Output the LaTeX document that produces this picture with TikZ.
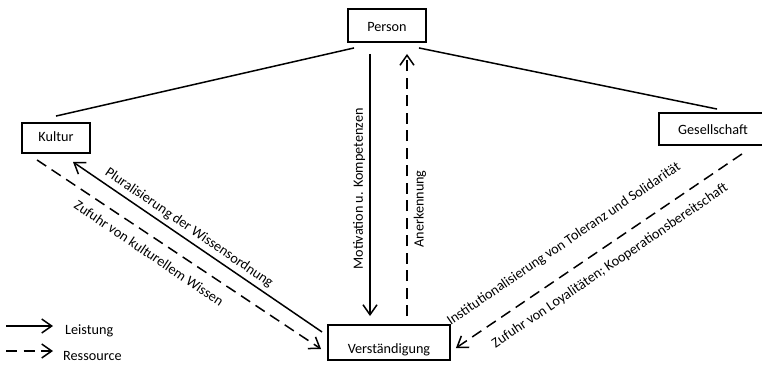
\documentclass[tikz,border=0pt]{standalone}
\usepackage{fontspec}
\setmainfont{Carlito}
\usetikzlibrary{arrows.meta,calc}
\begin{document}
\begin{tikzpicture}[x=1pt,y=-1pt,
  every node/.style={font=\fontsize{14.2}{16}\selectfont},
  box/.style={draw,line width=1.9pt,inner sep=0pt,align=center},
  lbl/.style={inner sep=0pt},
  conn/.style={line width=1.5pt},
  res/.style={conn,dash pattern=on 11pt off 6.5pt},
  tip/.style={-{Straight Barb[length=10pt,width=14pt,line width=1.5pt]}}
]
\useasboundingbox (0,0) rectangle (762,371);
% boxes
\node[box,minimum width=78pt,text height=23pt,text depth=10pt] (person) at (387,25.5) {Person};
\node[box,minimum width=68pt,text height=19pt,text depth=11pt] (kultur) at (56,138) {Kultur};
\node[box,minimum width=108pt,text height=22pt,text depth=10pt] (gesell) at (713,129) {Gesellschaft};
\node[box,minimum width=122pt,text height=28pt,text depth=7pt] (verst) at (389,342.5) {Verständigung};
% plain lines
\draw[conn] ($(kultur.north)+(0,-6)$) -- ($(person.south west)+(7,5)$);
\draw[conn] ($(person.south east)+(-8,5)$) -- ($(gesell.north west)+(59,-3)$);
% vertical arrows
\draw[conn,tip] ($(person.south)+(-17,11)$) -- ($(verst.north)+(-19,-8)$);
\draw[res,tip] ($(verst.north)+(18,-8)$) -- ($(person.south)+(20,11)$);
% Kultur arrows
\draw[conn,tip] ($(verst.west)+(-5,-10.5)$) -- ($(kultur.south)+(17,8)$);
\draw[res,tip] ($(kultur.south)+(-19,6)$) -- ($(verst.west)+(-6,6.5)$);
% Gesellschaft arrow
\draw[res,tip] ($(gesell.south)+(29,8)$) -- ($(verst.east)+(5,5.5)$);
% labels
\node[lbl,rotate=90] (motlbl) at (359,189) {Motivation u. Kompetenzen};
\node[lbl,rotate=90] (anerlbl) at (420,209) {Anerkennung};
\node[lbl,rotate=-34.4] (plurlbl) at (189,228) {Pluralisierung der Wissensordnung};
\node[lbl,rotate=-34] (zkultlbl) at (149,253) {Zufuhr von kulturellem Wissen};
\node[lbl,rotate=34.2] (instlbl) at (564,244) {Institutionalisierung von Toleranz und Solidarität};
\node[lbl,rotate=34.2] (zloylbl) at (610,266) {Zufuhr von Loyalitäten; Kooperationsbereitschaft};
% legend
\coordinate (l1a) at (6,326);
\coordinate (l1b) at (53,326);
\coordinate (l2a) at (6,351);
\coordinate (l2b) at (53,351);
\draw[conn,tip] (l1a) -- (l1b);
\draw[res,tip] (l2a) -- (l2b);
\node[lbl,anchor=west] (leg1) at (65,331) {Leistung};
\node[lbl,anchor=west] (leg2) at (63,356) {Ressource};
\end{tikzpicture}
\end{document}
